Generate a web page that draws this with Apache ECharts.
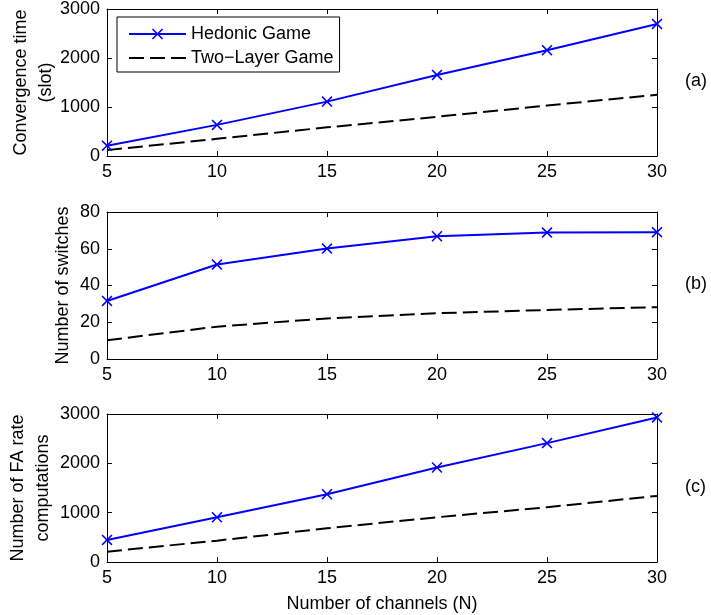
<!DOCTYPE html>
<html>
<head>
<meta charset="utf-8">
<script src="https://cdn.jsdelivr.net/npm/echarts@6/dist/echarts.min.js"></script>
<style>
  html, body { margin: 0; padding: 0; background: #fff; }
  #chart { width: 711px; height: 615px; }
</style>
</head>
<body>
<div id="chart"></div>
<script>
// Number of channels N
const channels = [5, 10, 15, 20, 25, 30];

// (a) convergence time in slots
const hedonicTime = [210, 635, 1110, 1655, 2160, 2695];
const twoLayerTime = [120, 350, 585, 800, 1030, 1250];

// (b) number of switches
const hedonicSwitches = [31.6, 51.4, 60.1, 66.8, 68.8, 69.0];
const twoLayerSwitches = [10.2, 17.6, 22.1, 24.9, 26.7, 28.2];

// (c) number of FA rate computations
const hedonicFA = [447, 907, 1374, 1916, 2410, 2931];
const twoLayerFA = [210, 433, 684, 907, 1110, 1340];

const seriesNames = ['Hedonic Game', 'Two\u2212Layer Game'];
const panelTags = ['(a)', '(b)', '(c)'];
const yNames = ['Convergence time\n(slot)', 'Number of switches', 'Number of FA rate\ncomputations'];
const yMax = [3000, 80, 3000];
const yStep = [1000, 20, 1000];
const xName = 'Number of channels (N)';

const FONT = 'Liberation Sans, Arial, Helvetica, sans-serif';
const FS = 18;
const crossPath = 'path://M0,1 L1,0 L5,4 L9,0 L10,1 L6,5 L10,9 L9,10 L5,6 L1,10 L0,9 L4,5 Z';

const pair = (xs, ys) => xs.map((x, i) => [x, ys[i]]);
const panels = [
  [hedonicTime, twoLayerTime],
  [hedonicSwitches, twoLayerSwitches],
  [hedonicFA, twoLayerFA]
];

const grids = [
  { left: 107, right: 54, top: 9, height: 147 },
  { left: 107, right: 54, top: 212, height: 147 },
  { left: 107, right: 54, top: 414, height: 148 }
].map(g => Object.assign({ containLabel: false, outerBoundsMode: 'none' }, g));

const axisLine = { show: true, onZero: false, lineStyle: { color: '#000', width: 1 } };
const tick = { show: true, inside: true, length: 5, lineStyle: { color: '#000' } };
const labelStyle = { color: '#000', fontSize: FS, fontFamily: FONT };
const plain = v => String(v);

const xAxes = [], yAxes = [], series = [];
const yNameGaps = [48, 31, 51];

panels.forEach((p, g) => {
  const xBase = { type: 'value', gridIndex: g, min: 5, max: 30, interval: 5, splitLine: { show: false }, axisLine, axisTick: tick };
  xAxes.push(Object.assign({}, xBase, {
    position: 'bottom',
    axisLabel: Object.assign({ margin: 7, formatter: plain }, labelStyle),
    name: g === 2 ? xName : '',
    nameLocation: 'middle',
    nameGap: 33,
    nameMoveOverlap: false,
    nameTextStyle: labelStyle
  }));
  xAxes.push(Object.assign({}, xBase, { position: 'top', axisLabel: { show: false } }));

  const yBase = { type: 'value', gridIndex: g, min: 0, max: yMax[g], interval: yStep[g], splitLine: { show: false }, axisLine, axisTick: tick };
  yAxes.push(Object.assign({}, yBase, {
    position: 'left',
    axisLabel: Object.assign({ margin: 7, formatter: plain }, labelStyle),
    name: yNames[g],
    nameLocation: 'middle',
    nameRotate: 90,
    nameGap: yNameGaps[g],
    nameMoveOverlap: false,
    nameTextStyle: Object.assign({ lineHeight: 25 }, labelStyle)
  }));
  yAxes.push(Object.assign({}, yBase, { position: 'right', axisLabel: { show: false } }));

  series.push({
    name: seriesNames[0], type: 'line',
    xAxisIndex: 2 * g, yAxisIndex: 2 * g,
    data: pair(channels, p[0]),
    symbol: crossPath, symbolSize: 11, showSymbol: true,
    itemStyle: { color: '#0000ff' },
    lineStyle: { color: '#0000ff', width: 2 },
    animation: false, silent: true
  });
  series.push({
    name: seriesNames[1], type: 'line',
    xAxisIndex: 2 * g, yAxisIndex: 2 * g,
    data: pair(channels, p[1]),
    symbol: 'none',
    itemStyle: { color: '#000' },
    lineStyle: { color: '#000', width: 2, type: [15, 6] },
    animation: false, silent: true
  });
});

const tagY = [82, 285, 488];
const graphic = panelTags.map((t, i) => ({
  type: 'text', left: 685, top: tagY[i] - 10,
  style: { text: t, fill: '#000', font: FS + 'px ' + FONT }
}));

const chart = echarts.init(document.getElementById('chart'), null, { renderer: 'canvas' });
chart.setOption({
  animation: false,
  backgroundColor: '#fff',
  grid: grids,
  xAxis: xAxes,
  yAxis: yAxes,
  series,
  legend: {
    data: [
      { name: seriesNames[0] },
      { name: seriesNames[1], itemStyle: { opacity: 0 } }
    ],
    orient: 'vertical',
    left: 117, top: 17,
    padding: [8, 6, 5, 11],
    itemWidth: 57, itemHeight: 14, itemGap: 6,
    borderColor: '#000', borderWidth: 1, borderRadius: 0,
    backgroundColor: '#fff',
    textStyle: labelStyle,
    selectedMode: false
  },
  graphic
});
</script>
</body>
</html>
